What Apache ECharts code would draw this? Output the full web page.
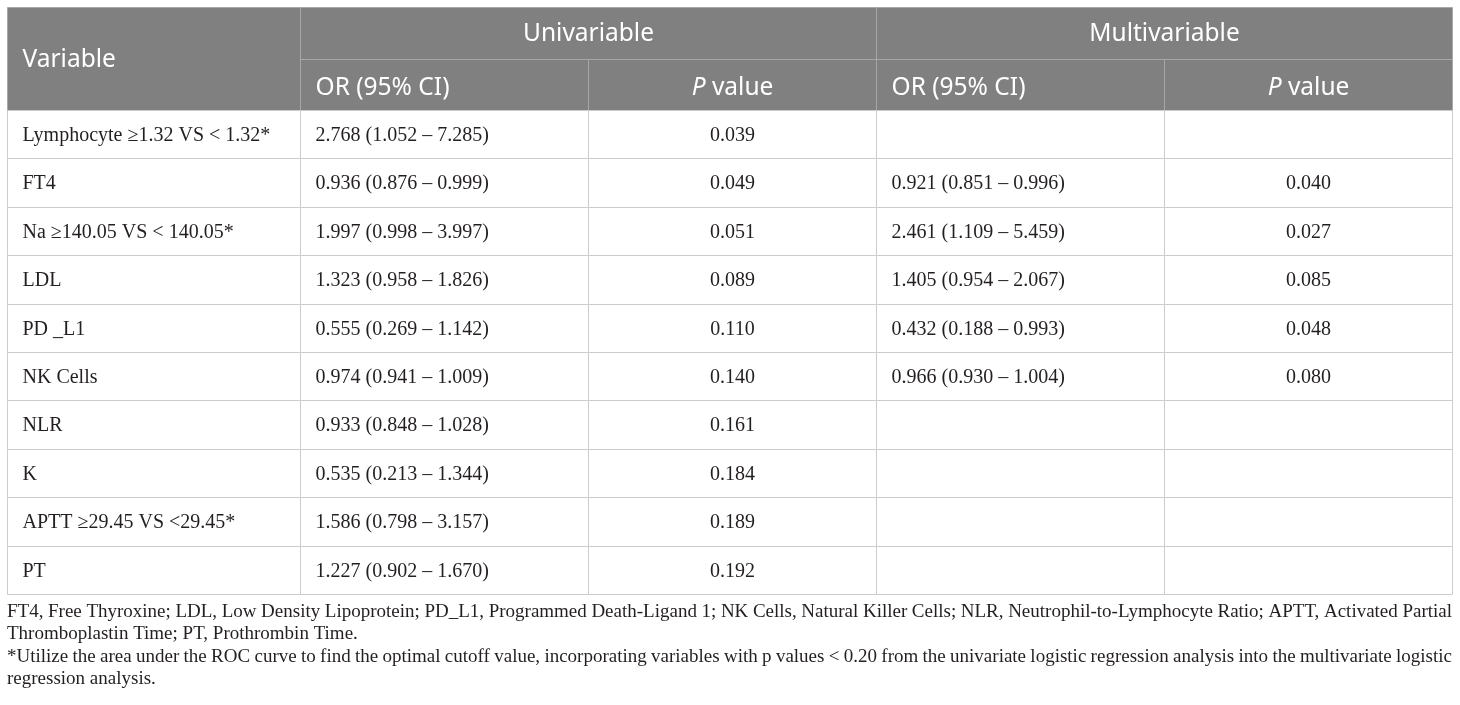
<!DOCTYPE html>
<html>
<head>
<meta charset="utf-8">
<script src="https://cdn.jsdelivr.net/npm/echarts@6/dist/echarts.min.js"></script>
<style>
html, body { margin: 0; padding: 0; background: #fff; }
#main { width: 1460px; height: 705px; }
</style>
</head>
<body>
<div id="main"></div>
<script>
// table content
var variables = ['Lymphocyte \u22651.32 VS < 1.32*', 'FT4', 'Na \u2265140.05 VS < 140.05*', 'LDL', 'PD _L1',
  'NK Cells', 'NLR', 'K', 'APTT \u226529.45 VS <29.45*', 'PT'];
var uniOR = ['2.768 (1.052 \u2013 7.285)', '0.936 (0.876 \u2013 0.999)', '1.997 (0.998 \u2013 3.997)',
  '1.323 (0.958 \u2013 1.826)', '0.555 (0.269 \u2013 1.142)', '0.974 (0.941 \u2013 1.009)',
  '0.933 (0.848 \u2013 1.028)', '0.535 (0.213 \u2013 1.344)', '1.586 (0.798 \u2013 3.157)',
  '1.227 (0.902 \u2013 1.670)'];
var uniP = ['0.039', '0.049', '0.051', '0.089', '0.110', '0.140', '0.161', '0.184', '0.189', '0.192'];
var multiOR = ['', '0.921 (0.851 \u2013 0.996)', '2.461 (1.109 \u2013 5.459)', '1.405 (0.954 \u2013 2.067)',
  '0.432 (0.188 \u2013 0.993)', '0.966 (0.930 \u2013 1.004)', '', '', '', ''];
var multiP = ['', '0.040', '0.027', '0.085', '0.048', '0.080', '', '', '', ''];
var groupHeaders = ['Univariable', 'Multivariable'];
var subHeaders = ['OR (95% CI)', '{i|P} value', 'OR (95% CI)', '{i|P} value'];
var footnotes = [
  'FT4, Free Thyroxine; LDL, Low Density Lipoprotein; PD_L1, Programmed Death-Ligand 1; NK Cells, Natural Killer Cells; NLR, Neutrophil-to-Lymphocyte Ratio; APTT, Activated Partial',
  'Thromboplastin Time; PT, Prothrombin Time.',
  '*Utilize the area under the ROC curve to find the optimal cutoff value, incorporating variables with p values < 0.20 from the univariate logistic regression analysis into the multivariate logistic',
  'regression analysis.'
];
var justified = [true, false, true, false];

// layout
var colWidths = [293, 288, 288, 288, 288];
var rowHeights = [52, 51].concat(variables.map(function () { return 48.4; }));
var colEdges = [0], rowEdges = [0];
colWidths.forEach(function (w, i) { colEdges.push(colEdges[i] + w); });
rowHeights.forEach(function (h, i) { rowEdges.push(rowEdges[i] + h); });
var tableW = colEdges[colEdges.length - 1];
var tableH = rowEdges[rowEdges.length - 1];
var leftX = 7, topY = 7;

var headFont = '"Noto Sans", sans-serif';
var bodyFont = '"Liberation Serif", serif';
var headSize = 24.5, bodySize = 20;

// cells: [x0, x1, y0, y1] in table units, plus text and alignment
var cells = [];
function addCell(c0, c1, r0, r1, text, kind, align, dy) {
  cells.push({ value: [colEdges[c0], colEdges[c1], rowEdges[r0], rowEdges[r1]], text: text, kind: kind, align: align, dy: dy });
}
addCell(0, 1, 0, 2, 'Variable', 'head', 'left', 1.5);
groupHeaders.forEach(function (g, i) { addCell(1 + i * 2, 3 + i * 2, 0, 1, g, 'head', 'center', 1); });
subHeaders.forEach(function (s, i) { addCell(1 + i, 2 + i, 1, 2, s, 'head', i % 2 ? 'center' : 'left', 3); });
variables.forEach(function (v, r) {
  var cols = [v, uniOR[r], uniP[r], multiOR[r], multiP[r]];
  cols.forEach(function (t, c) {
    addCell(c, c + 1, r + 2, r + 3, t, 'body', (c === 2 || c === 4) ? 'center' : 'left', 1);
  });
});

function renderCell(params, api) {
  var cell = cells[params.dataIndex];
  var p0 = api.coord([api.value(0), api.value(2)]);
  var p1 = api.coord([api.value(1), api.value(3)]);
  var x0 = Math.round(p0[0]) + 0.5, y0 = Math.round(p0[1]) + 0.5;
  var x1 = Math.round(p1[0]) + 0.5, y1 = Math.round(p1[1]) + 0.5;
  var head = cell.kind === 'head';
  var tx = cell.align === 'center' ? (x0 + x1) / 2 : x0 + 15;
  return {
    type: 'group',
    children: [{
      type: 'rect',
      shape: { x: x0, y: y0, width: x1 - x0, height: y1 - y0 },
      style: { fill: head ? '#808080' : '#ffffff', stroke: head ? '#a8a8a8' : '#cccccc', lineWidth: 1 }
    }, {
      type: 'text',
      style: {
        text: cell.text,
        x: tx,
        y: (y0 + y1) / 2 + cell.dy,
        align: cell.align,
        verticalAlign: 'middle',
        fontFamily: head ? headFont : bodyFont,
        fontSize: head ? headSize : bodySize,
        fill: head ? '#ffffff' : '#231f20',
        rich: { i: { fontStyle: 'italic', fontFamily: headFont, fontSize: headSize, fill: '#ffffff' } }
      }
    }]
  };
}

// footnote lines, spread to the table width where the source justifies them
var footFont = '19px "Liberation Serif"';
var ctx = document.createElement('canvas').getContext('2d');
ctx.font = footFont;
var footGraphics = [];
var footTop = topY + tableH + 18;
footnotes.forEach(function (line, li) {
  var y = footTop + li * 22.5;
  if (!justified[li]) {
    footGraphics.push({ type: 'text', x: leftX, y: y, style: { text: line, font: footFont, fill: '#231f20', verticalAlign: 'middle' } });
    return;
  }
  var words = line.split(' ');
  var total = 0;
  var widths = words.map(function (w) { var m = ctx.measureText(w).width; total += m; return m; });
  var gap = (tableW - total) / (words.length - 1);
  var x = leftX;
  words.forEach(function (w, i) {
    footGraphics.push({ type: 'text', x: x, y: y, style: { text: w, font: footFont, fill: '#231f20', verticalAlign: 'middle' } });
    x += widths[i] + gap;
  });
});

var chart = echarts.init(document.getElementById('main'));
var option = {
  animation: false,
  grid: { left: leftX, top: topY, width: tableW, height: tableH },
  xAxis: { type: 'value', min: 0, max: tableW, show: false },
  yAxis: { type: 'value', min: 0, max: tableH, inverse: true, show: false },
  series: [{
    type: 'custom',
    renderItem: renderCell,
    encode: { x: [0, 1], y: [2, 3] },
    data: cells.map(function (c) { return c.value; }),
    silent: true
  }],
  graphic: footGraphics
};
chart.setOption(option);

window.addEventListener('resize', function () {
  chart.resize();
});
</script>
</body>
</html>
